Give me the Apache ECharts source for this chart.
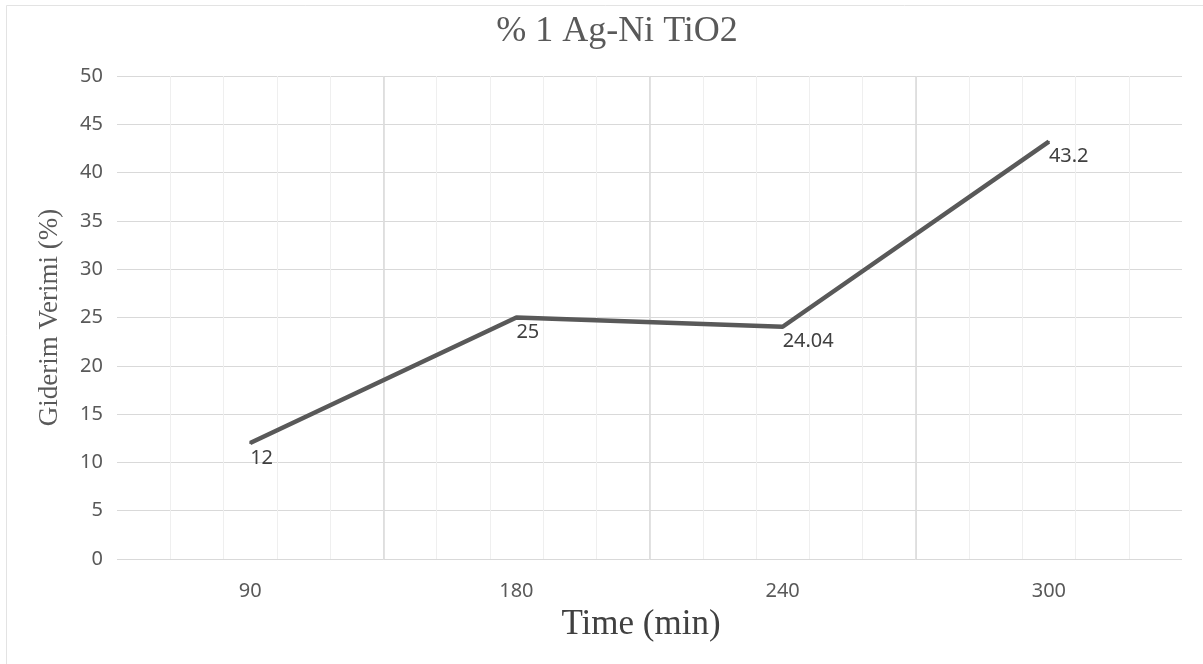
<!DOCTYPE html>
<html>
<head>
<meta charset="utf-8">
<script src="https://cdn.jsdelivr.net/npm/echarts@6/dist/echarts.min.js"></script>
<style>
  html, body { margin: 0; padding: 0; background: #ffffff; }
  #chart { width: 1203px; height: 664px; }
</style>
</head>
<body>
<div id="chart"></div>
<script>
// Removal efficiency over time for 1% Ag-Ni TiO2
const timeLabels = ['90', '180', '240', '300'];
const efficiency = [12, 25, 24.04, 43.2];
const yTicks = { min: 0, max: 50, step: 5 };

const chart = echarts.init(document.getElementById('chart'));

const sans = '"Noto Sans", "Open Sans", sans-serif';
const serif = '"Liberation Serif", "DejaVu Serif", serif';

chart.setOption({
  backgroundColor: '#ffffff',
  animation: false,
  graphic: [{
    type: 'rect',
    shape: { x: 6.5, y: 5.5, width: 1300, height: 700 },
    style: { fill: 'none', stroke: '#e3e3e3', lineWidth: 1 },
    silent: true
  }],
  title: {
    text: '% 1 Ag-Ni TiO2',
    left: 612,
    textAlign: 'center',
    top: 9,
    textStyle: { fontFamily: serif, fontSize: 36, fontWeight: 'normal', color: '#595959' }
  },
  grid: { left: 117, right: 21, top: 76, bottom: 105, containLabel: false },
  xAxis: [{
    type: 'category',
    data: timeLabels,
    boundaryGap: true,
    axisLine: { show: false },
    axisTick: { show: false },
    splitLine: { show: false },
    axisLabel: { margin: 22, fontFamily: sans, fontSize: 20, color: '#595959' },
    name: 'Time (min)',
    nameLocation: 'middle',
    nameGap: 48,
    nameTextStyle: { fontFamily: serif, fontSize: 35, color: '#404040', padding: [0, 17, 0, 0] }
  }, {
    // fine vertical grid: five divisions per category
    type: 'value', min: 0, max: 20, interval: 1, show: true, position: 'top',
    axisLine: { show: false }, axisTick: { show: false }, axisLabel: { show: false },
    splitLine: { show: true, showMinLine: false, showMaxLine: false, lineStyle: { color: '#efefef', width: 1 } }
  }, {
    // category boundary lines
    type: 'value', min: 0, max: 4, interval: 1, show: true, position: 'top',
    axisLine: { show: false }, axisTick: { show: false }, axisLabel: { show: false },
    splitLine: { show: true, showMinLine: false, showMaxLine: false, lineStyle: { color: '#d9d9d9', width: 1.5 } }
  }],
  yAxis: {
    type: 'value',
    min: yTicks.min,
    max: yTicks.max,
    interval: yTicks.step,
    axisLine: { show: false },
    axisTick: { show: false },
    axisLabel: { margin: 14, fontFamily: sans, fontSize: 20, color: '#595959' },
    splitLine: { lineStyle: { color: '#d9d9d9', width: 1 } },
    name: 'Giderim Verimi (%)',
    nameLocation: 'middle',
    nameGap: 54,
    nameTextStyle: { fontFamily: serif, fontSize: 27, color: '#595959' }
  },
  series: [{
    type: 'line',
    xAxisIndex: 0,
    data: efficiency,
    symbol: 'circle',
    symbolSize: 2,
    itemStyle: { color: '#595959' },
    lineStyle: { color: '#595959', width: 4.5 },
    label: {
      show: true,
      position: [1, 6],
      fontFamily: sans,
      fontSize: 20,
      color: '#404040'
    },
    z: 5
  }]
});
</script>
</body>
</html>
